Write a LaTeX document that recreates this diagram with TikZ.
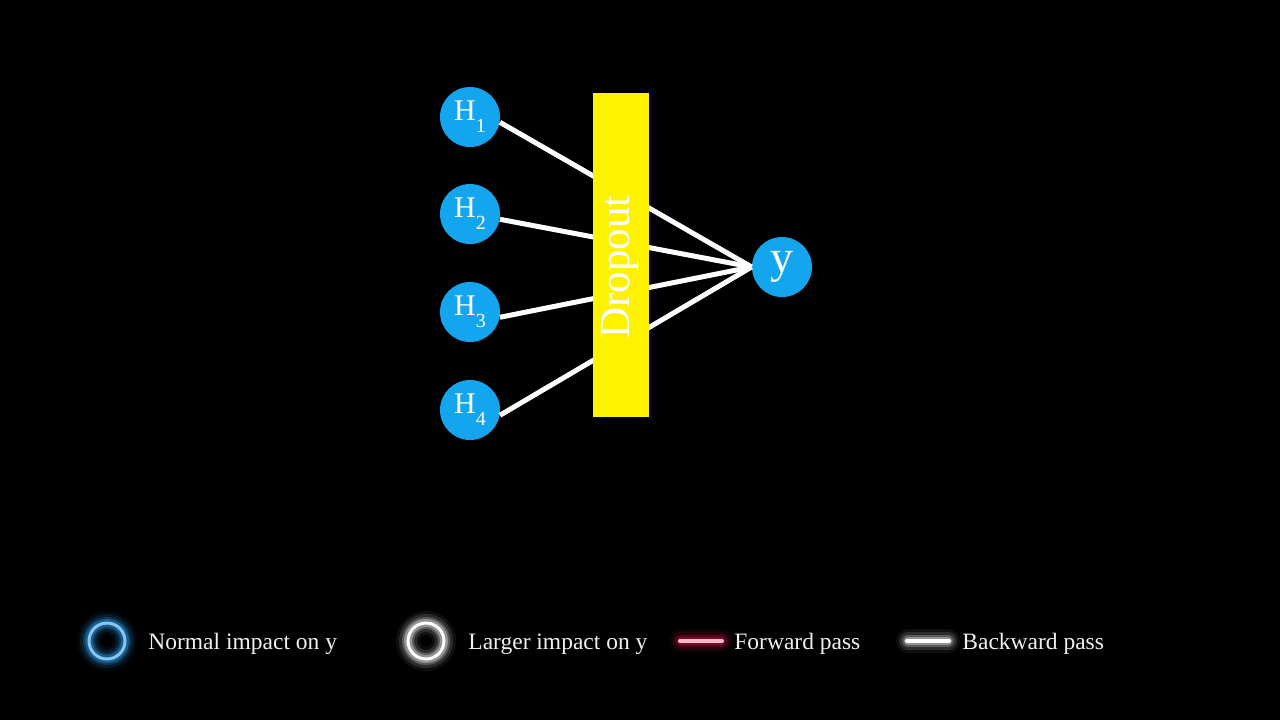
\documentclass[tikz,border=0pt]{standalone}
\usepackage{fontspec}
\setmainfont{Liberation Serif}
\definecolor{nodeblue}{RGB}{19,165,238}
\definecolor{dropyellow}{RGB}{255,242,0}
\definecolor{fwdpink}{RGB}{215,20,80}
\definecolor{ringblue}{RGB}{50,160,240}
\newcommand{\hlab}[1]{H\raisebox{-6pt}{\fontsize{10}{10}\selectfont #1}}

\begin{document}
\begin{tikzpicture}[x=0.5pt,y=-0.5pt,
  unit/.style={circle,fill=nodeblue,minimum size=30pt,inner sep=0pt,text=white,font=\fontsize{15}{15}\selectfont},
  link/.style={white,line width=2.5pt},
  legtext/.style={anchor=base west,inner sep=0pt,text=white!94!black,font=\fontsize{11.75}{11.75}\selectfont}]
  \fill[black] (0,0) rectangle (1280,720);
  \useasboundingbox (0,0) rectangle (1280,720);

  %hidden units and output
  \foreach \i/\yy in {1/117,2/214,3/312,4/410} {
    \node[unit] (H\i) at (470,\yy) {\hlab{\i}};
  }
  \node[unit,font=\fontsize{23}{23}\selectfont] (y) at (782,267) {y};

  %connections, partly hidden by the dropout bar
  \foreach \i in {1,...,4} {
    \draw[link] (H\i.-10) -- (y.west);
  }
  \node[fill=dropyellow,minimum width=28pt,minimum height=162pt,inner sep=0pt] (drop) at (621,255) {};
  \node[rotate=90,text=white,inner sep=0pt,font=\fontsize{21.5}{21.5}\selectfont] (droplab) at (620,267) {Dropout};

  %legend glow
  \foreach \w/\o in {12/0.06,9/0.12,6/0.22,4/0.35} {
    \draw[ringblue,line width=\w pt,opacity=\o] (107,641) circle (18);
    \draw[white,line width=\w pt,opacity=\o] (426,641) circle (18);
    \draw[fwdpink,line width=\w pt,opacity=\o,line cap=round] (681,641) -- (721,641);
    \draw[white,line width=\w pt,opacity=\o,line cap=round] (908,641) -- (948,641);
  }
  \draw[ringblue!60!white,line width=1.5pt] (107,641) circle (18);
  \draw[white,line width=1.5pt] (426,641) circle (18);
  \draw[fwdpink!30!white,line width=2pt,line cap=round] (680,641) -- (722,641);
  \draw[white,line width=2pt,line cap=round] (907,641) -- (949,641);

  %legend texts
  \node[legtext] (normtxt) at (148,649) {Normal impact on y};
  \node[legtext] (largetxt) at (468,649) {Larger impact on y};
  \node[legtext] (fwdtxt) at (734,649) {Forward pass};
  \node[legtext] (bwdtxt) at (962,649) {Backward pass};
\end{tikzpicture}
\end{document}
